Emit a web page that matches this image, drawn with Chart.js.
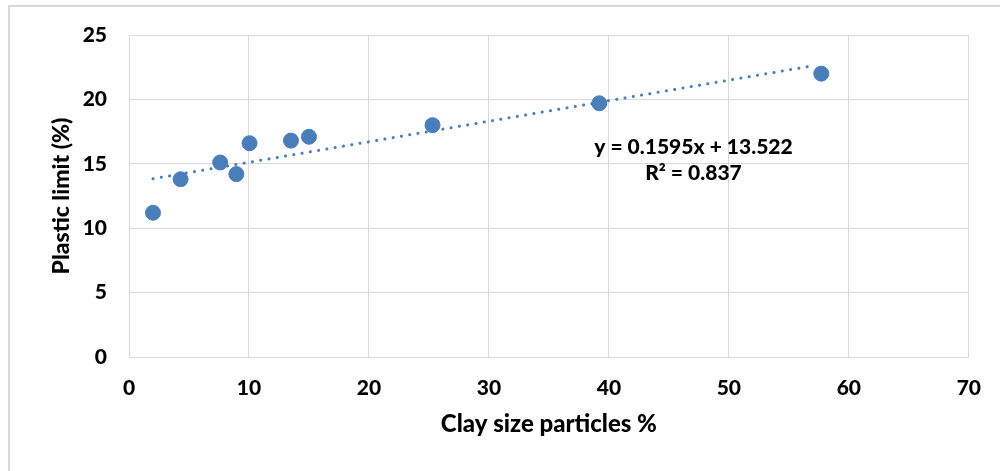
<!DOCTYPE html>
<html>
<head>
<meta charset="utf-8">
<script src="https://cdn.jsdelivr.net/npm/chart.js@4/dist/chart.umd.min.js"></script>
<style>
  body { margin: 0; background: #fff; }
  #frame { position: absolute; left: 8px; top: 5px; width: 1100px; height: 600px; border: 2px solid #d9d9d9; }
  #myChart { position: absolute; left: 0; top: 0; }
</style>
</head>
<body>
<div id="frame"></div>
<canvas id="myChart" width="1000" height="471"></canvas>
<script>
// clay size particles (%) vs plastic limit (%)
var clayPct = [2.0, 4.3, 7.6, 8.95, 10.05, 13.5, 15.0, 25.3, 39.2, 57.7];
var plasticLimit = [11.2, 13.8, 15.1, 14.2, 16.6, 16.8, 17.1, 18.0, 19.7, 22.0];

// linear trendline end points (y = 0.1595x + 13.522)
var trendX = [2.0, 57.0];
var trendY = [13.84, 22.61];

var xTicks = [0, 10, 20, 30, 40, 50, 60, 70];
var yTicks = [0, 5, 10, 15, 20, 25];
var eqLines = ['y = 0.1595x + 13.522', 'R\u00b2 = 0.837'];

var blue = '#4a7ebb';
var gridCol = '#d9d9d9';
var font = 'Lato';

var eqLabel = {
    id: 'eqLabel',
    afterDatasetsDraw: function (chart) {
        var ctx = chart.ctx;
        var xs = chart.scales.x, ys = chart.scales.y;
        ctx.save();
        ctx.fillStyle = '#000';
        ctx.font = '900 21px ' + font;
        ctx.textAlign = 'center';
        ctx.textBaseline = 'middle';
        var cx = xs.getPixelForValue(47.05);
        ctx.fillText(eqLines[0], cx, ys.getPixelForValue(16.3));
        ctx.fillText(eqLines[1], cx, ys.getPixelForValue(14.3));
        ctx.restore();
    }
};

var ctx = document.getElementById('myChart').getContext('2d');
var myChart = new Chart(ctx, {
    type: 'scatter',
    data: {
        datasets: [{
            data: clayPct.map(function (x, i) { return { x: x, y: plasticLimit[i] }; }),
            backgroundColor: blue,
            borderColor: blue,
            pointRadius: 7.5,
            pointHoverRadius: 7.5,
            order: 1
        }, {
            type: 'line',
            data: trendX.map(function (x, i) { return { x: x, y: trendY[i] }; }),
            borderColor: blue,
            borderWidth: 3,
            borderDash: [0.1, 8.3],
            borderCapStyle: 'round',
            pointRadius: 0,
            fill: false,
            order: 2
        }]
    },
    options: {
        responsive: false,
        animation: false,
        layout: { padding: { top: 35, right: 30, bottom: 0, left: 0 } },
        plugins: { legend: { display: false }, tooltip: { enabled: false } },
        scales: {
            x: {
                type: 'linear',
                min: 0, max: 70,
                afterBuildTicks: function (s) { s.ticks = xTicks.map(function (v) { return { value: v }; }); },
                afterFit: function (s) { s.height = 114; },
                grid: { color: gridCol, lineWidth: 1, drawTicks: false },
                border: { color: gridCol, width: 1 },
                ticks: { padding: 19, color: '#000', font: { family: font, size: 21, weight: 900 } },
                title: { display: true, text: 'Clay size particles %', color: '#000', padding: { bottom: 32 },
                         font: { family: font, size: 24, weight: 900 } }
            },
            y: {
                min: 0, max: 25,
                afterBuildTicks: function (s) { s.ticks = yTicks.map(function (v) { return { value: v }; }); },
                afterFit: function (s) { s.width = 129; },
                grid: { color: gridCol, lineWidth: 1, drawTicks: false },
                border: { color: gridCol, width: 1 },
                ticks: { padding: 22, color: '#000', font: { family: font, size: 21, weight: 900 } },
                title: { display: true, text: 'Plastic limit (%)', color: '#000', padding: { top: 48 },
                         font: { family: font, size: 23, weight: 900 } }
            }
        }
    },
    plugins: [eqLabel]
});
</script>
</body>
</html>
